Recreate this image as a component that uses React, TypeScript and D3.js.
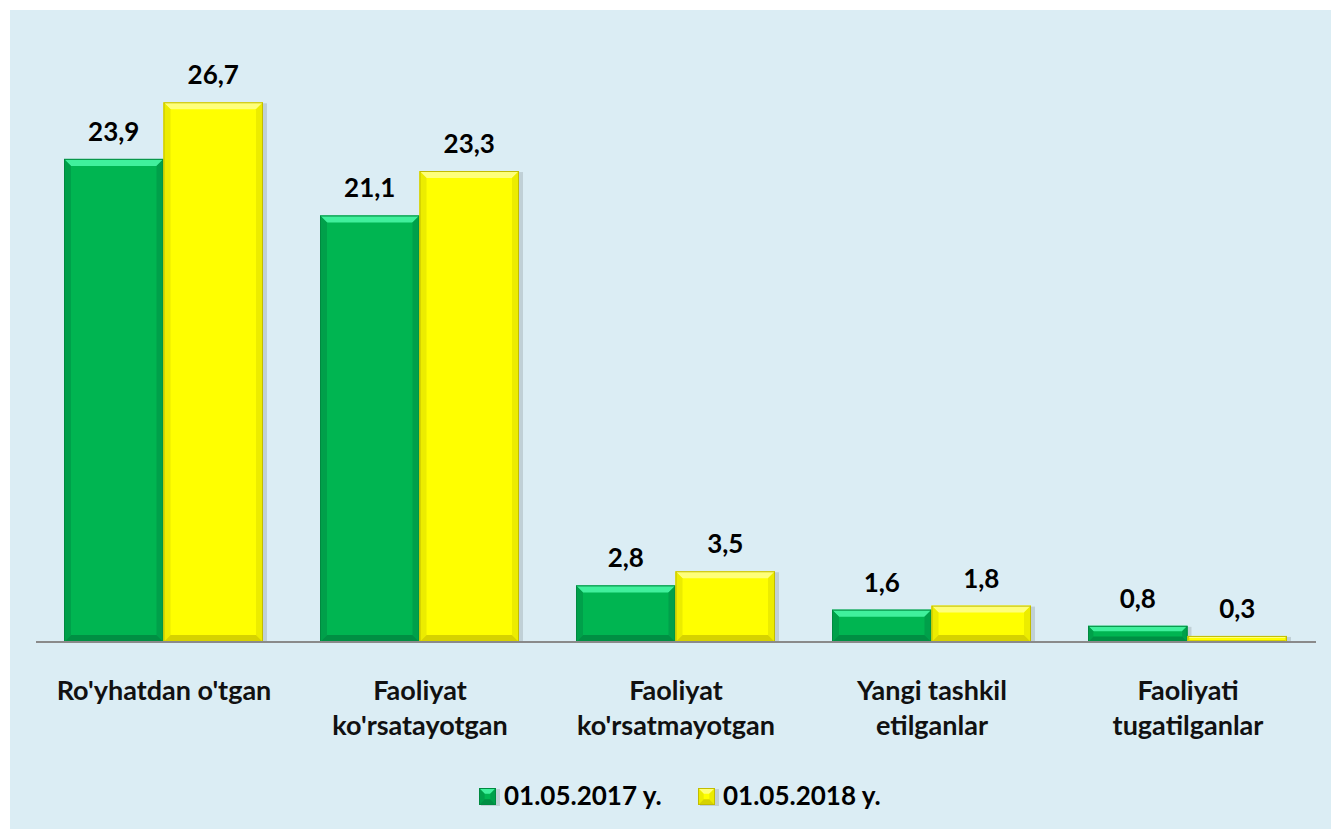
import React from "react";
import * as d3 from "d3";

const categories: string[][] = [
  ["Ro'yhatdan o'tgan"],
  ["Faoliyat", "ko'rsatayotgan"],
  ["Faoliyat", "ko'rsatmayotgan"],
  ["Yangi tashkil", "etilganlar"],
  ["Faoliyati", "tugatilganlar"],
];
const seriesNames = ["01.05.2017 y.", "01.05.2018 y."];
const values2017 = [23.9, 21.1, 2.8, 1.6, 0.8];
const values2018 = [26.7, 23.3, 3.5, 1.8, 0.3];
const seriesValues = [values2017, values2018];

const W = 1331;
const H = 829;
const FONT = "Lato, 'Open Sans', sans-serif";

const palettes = [
  { base: "#00b551", light: "#40f09c", side: "#00a04a", bottom: "#008f43", border: "#008a40" },
  { base: "#ffff00", light: "#ffff7a", side: "#ecec00", bottom: "#d6d200", border: "#c2bc00" },
];

function BevelRect({ x, y, w, h, p }: { x: number; y: number; w: number; h: number; p: typeof palettes[0] }) {
  const b = Math.min(7, h / 3, w / 3);
  const pts = (a: number[][]) => a.map((q) => q.join(",")).join(" ");
  return (
    <g>
      <rect x={x + 2} y={y + 1} width={w + 2} height={h} fill="#000" opacity={0.12} />
      <rect x={x} y={y} width={w} height={h} fill={p.base} />
      <polygon points={pts([[x, y], [x + w, y], [x + w - b, y + b], [x + b, y + b]])} fill={p.light} />
      <polygon points={pts([[x, y], [x + b, y + b], [x + b, y + h - b], [x, y + h]])} fill={p.side} />
      <polygon points={pts([[x + w, y], [x + w - b, y + b], [x + w - b, y + h - b], [x + w, y + h]])} fill={p.side} />
      <polygon points={pts([[x, y + h], [x + b, y + h - b], [x + w - b, y + h - b], [x + w, y + h]])} fill={p.bottom} />
      <rect x={x + 0.5} y={y + 0.5} width={Math.max(0, w - 1)} height={Math.max(0, h - 1)} fill="none" stroke={p.border} strokeWidth={1} />
    </g>
  );
}

export default function App() {
  const baseY = 642;
  const x0 = d3
    .scaleBand<number>()
    .domain(d3.range(categories.length))
    .range([36, 1316])
    .padding(0);
  const x1 = d3.scaleBand<number>().domain([0, 1]).range([28, 227]).padding(0);
  const y = d3.scaleLinear().domain([0, 28]).range([baseY, 76]);

  return (
    <svg width={W} height={H} style={{ position: "absolute", left: 0, top: 0 }}>
      <rect x={10} y={10} width={W - 10} height={H - 10} fill="#dbedf4" />
      {categories.map((cat, i) => (
        <g key={i}>
          {seriesValues.map((vals, s) => {
            const bx = (x0(i) as number) + (x1(s) as number);
            const bw = x1.bandwidth();
            const top = y(vals[i]);
            return (
              <g key={s}>
                <BevelRect x={bx} y={top} w={bw} h={baseY - top} p={palettes[s]} />
                <text
                  x={bx + bw / 2}
                  y={top - 18}
                  textAnchor="middle"
                  fontFamily={FONT}
                  fontWeight="bold"
                  fontSize={26}
                  fill="#000"
                >
                  {String(vals[i]).replace(".", ",")}
                </text>
              </g>
            );
          })}
        </g>
      ))}
      <line x1={36} x2={1316} y1={baseY} y2={baseY} stroke="#8a8a8a" strokeWidth={2} />
      {categories.map((cat, i) => (
        <text
          key={i}
          x={(x0(i) as number) + x0.bandwidth() / 2}
          y={700}
          textAnchor="middle"
          fontFamily={FONT}
          fontWeight="bold"
          fontSize={27}
          fill="#111"
        >
          {cat.map((line, k) => (
            <tspan key={k} x={(x0(i) as number) + x0.bandwidth() / 2} dy={k === 0 ? 0 : 35}>
              {line}
            </tspan>
          ))}
        </text>
      ))}
      {seriesNames.map((name, s) => {
        const lx = s === 0 ? 479 : 698;
        return (
          <g key={s}>
            <BevelRect x={lx} y={788} w={17} h={17} p={palettes[s]} />
            <text x={lx + 25} y={805} fontFamily={FONT} fontWeight="bold" fontSize={26} fill="#000">
              {name}
            </text>
          </g>
        );
      })}
    </svg>
  );
}
